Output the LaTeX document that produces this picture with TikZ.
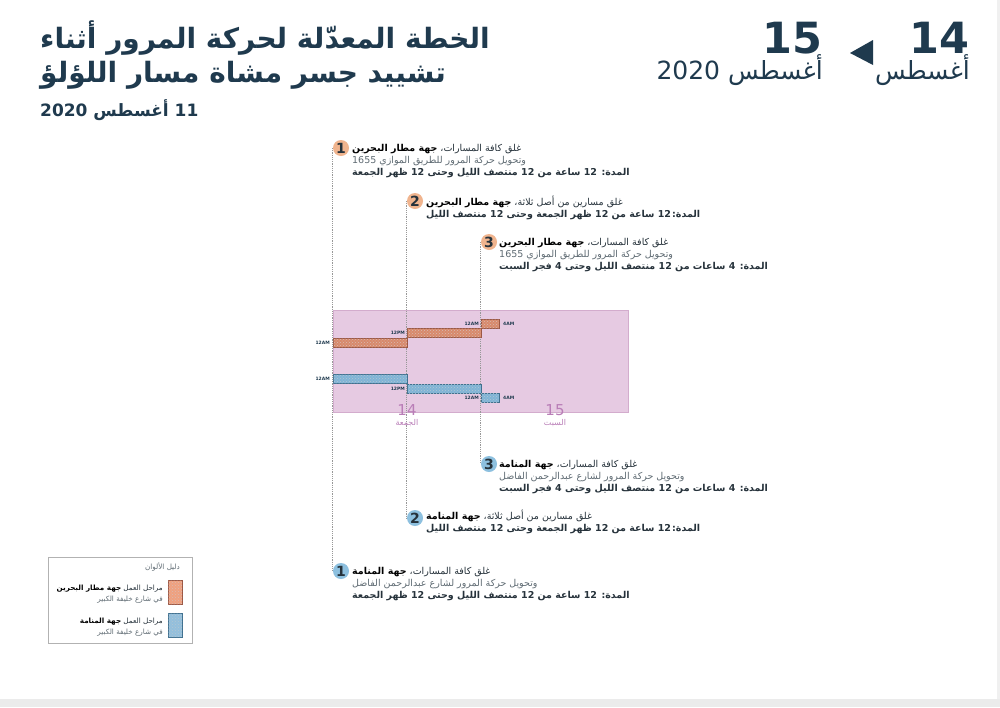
\documentclass[tikz,border=0pt]{standalone}
\usepackage{fontspec}
\setmainfont{DejaVu Sans}
\newfontfamily\ar[Script=Arabic]{DejaVu Sans}
\TeXXeTstate=1
\usetikzlibrary{patterns}
\definecolor{navy}{HTML}{1F3A4E}
\definecolor{txtgray}{HTML}{5F6B73}
\definecolor{dark}{HTML}{26323B}
\definecolor{orc}{HTML}{F0B48E}
\definecolor{blc}{HTML}{8DC0DF}
\definecolor{barO}{HTML}{D8896B}
\definecolor{barOd}{HTML}{9B5744}
\definecolor{barB}{HTML}{80B4D6}
\definecolor{barBd}{HTML}{40708F}
\definecolor{pinkf}{HTML}{E6CAE2}
\definecolor{pinkd}{HTML}{D3ACCD}
\definecolor{daylbl}{HTML}{B97DB7}
\definecolor{vln}{HTML}{989898}
\definecolor{legO}{HTML}{F0A07E}
\newcommand{\bd}[1]{{\bfseries\color{dark}#1}}
\pgfdeclarelayer{bgzero}
\pgfdeclarelayer{bgone}
\pgfsetlayers{bgzero,bgone,main}
\tikzset{
  tx/.style={anchor=base west, inner sep=0, text=txtgray, font=\ar\fontsize{9.5}{11}\selectfont},
  txb/.style={tx, text=dark, font=\ar\bfseries\fontsize{9.5}{11}\selectfont},
  num/.style={circle, inner sep=0, minimum size=16pt, text=dark, font=\bfseries\fontsize{14}{14}\selectfont},
  onum/.style={num, fill=orc},
  bnum/.style={num, fill=blc},
  vline/.style={draw=vln, line width=1.2pt, densely dotted},
  obar/.style={fill=barO, draw=barOd, line width=0.5pt, postaction={pattern=crosshatch dots, pattern color=barOd!40}},
  bbar/.style={fill=barB, draw=barBd, line width=0.5pt, postaction={pattern=crosshatch dots, pattern color=barBd!40}},
  tlbl/.style={inner sep=0, text=navy, font=\bfseries\fontsize{4.5}{5}\selectfont},
  daynum/.style={inner sep=0, text=daylbl, font=\fontsize{15}{15}\selectfont},
  dayname/.style={inner sep=0, text=daylbl, font=\ar\fontsize{8}{9}\selectfont},
  lg/.style={anchor=base east, inner sep=0, text=txtgray, font=\ar\fontsize{7.2}{8}\selectfont}
}
\begin{document}
\begin{tikzpicture}[x=1pt,y=-1pt]
\useasboundingbox (0,0) rectangle (1000,707);
\begin{pgfonlayer}{bgzero}
\fill[white] (0,0) rectangle (1000,707);
\fill[black!8] (0,699) rectangle (1000,707);
\fill[black!6] (997,0) rectangle (1000,699);
\fill[pinkf] (333,310) rectangle (628,412);
\draw[pinkd, line width=0.5pt] (333,310) rectangle (628,412);
\end{pgfonlayer}

% title
\node[anchor=base west, inner sep=0, text=navy, font=\ar\bfseries\fontsize{28}{28}\selectfont] (t1) at (40,48) {\beginR الخطة المعدّلة لحركة المرور أثناء\endR};
\node[anchor=base west, inner sep=0, text=navy, font=\ar\bfseries\fontsize{28}{28}\selectfont] (t2) at (40,82) {\beginR تشييد جسر مشاة مسار اللؤلؤ\endR};
\node[anchor=base west, inner sep=0, text=navy, font=\ar\bfseries\fontsize{17}{17}\selectfont] (t3) at (40,116) {\beginR 11 أغسطس 2020\endR};

% dates top right
\node[anchor=base east, inner sep=0, text=navy, font=\bfseries\fontsize{43}{43}\selectfont] (d14) at (970,53) {14};
\node[anchor=base east, inner sep=0, text=navy, font=\ar\fontsize{25}{25}\selectfont] (m14) at (970,79) {\beginR أغسطس\endR};
\node[anchor=base east, inner sep=0, text=navy, font=\bfseries\fontsize{43}{43}\selectfont] (d15) at (823,53) {15};
\node[anchor=base east, inner sep=0, text=navy, font=\ar\fontsize{25}{25}\selectfont] (m15) at (823,79) {\beginR أغسطس 2020\endR};
\fill[navy] (850,53) -- (873,40) -- (873,65) -- cycle;

% circles
\node[onum] (o1) at (341,148) {1};
\node[onum] (o2) at (415,201) {2};
\node[onum] (o3) at (489,242) {3};
\node[bnum] (b3) at (489,464) {3};
\node[bnum] (b2) at (415,518) {2};
\node[bnum] (b1) at (341,571) {1};

\begin{pgfonlayer}{bgone}
\draw[vline] (o1.west) -- (b1.west);
\draw[vline] (o2.west) -- (b2.west);
\draw[vline] (o3.west) -- (b3.west);
\end{pgfonlayer}

% bars
\filldraw[obar] (333,338) rectangle (407,347);
\filldraw[obar] (407,328) rectangle (481,337);
\filldraw[obar] (481,319) rectangle (499,328);
\filldraw[bbar] (333,374) rectangle (407,383);
\filldraw[bbar] (407,384) rectangle (481,393);
\filldraw[bbar] (481,393) rectangle (499,402);

\node[tlbl, anchor=east] (la1) at (330,342.5) {12AM};
\node[tlbl, anchor=east] (la2) at (405,332.5) {12PM};
\node[tlbl, anchor=east] (la3) at (479,323.5) {12AM};
\node[tlbl, anchor=west] (la4) at (503,323.5) {4AM};
\node[tlbl, anchor=east] (lb1) at (330,378.5) {12AM};
\node[tlbl, anchor=east] (lb2) at (405,388.5) {12PM};
\node[tlbl, anchor=east] (lb3) at (479,397.5) {12AM};
\node[tlbl, anchor=west] (lb4) at (503,397.5) {4AM};

\node[daynum] (n14) at (407,410) {14};
\node[dayname] (j14) at (407,423) {\beginR الجمعة\endR};
\node[daynum] (n15) at (555,410) {15};
\node[dayname] (j15) at (555,423) {\beginR السبت\endR};

% orange texts
\node[tx] (o1a) at (352,151) {\beginR غلق كافة المسارات، \bd{جهة مطار البحرين}\endR};
\node[tx] (o1b) at (352,163) {\beginR وتحويل حركة المرور للطريق الموازي 1655\endR};
\node[txb] (o1c) at (352,175) {\beginR المدة: 12 ساعة من 12 منتصف الليل وحتى 12 ظهر الجمعة\endR};

\node[tx] (o2a) at (426,205) {\beginR غلق مسارين من أصل ثلاثة، \bd{جهة مطار البحرين}\endR};
\node[txb] (o2b) at (426,217) {\beginR المدة:\kern1pt 12 ساعة من 12 ظهر الجمعة وحتى 12 منتصف الليل\endR};

\node[tx] (o3a) at (499,245) {\beginR غلق كافة المسارات، \bd{جهة مطار البحرين}\endR};
\node[tx] (o3b) at (499,257) {\beginR وتحويل حركة المرور للطريق الموازي 1655\endR};
\node[txb] (o3c) at (499,269) {\beginR المدة: 4 ساعات من 12 منتصف الليل وحتى 4 فجر السبت\endR};

% blue texts
\node[tx] (b3a) at (499,467) {\beginR غلق كافة المسارات، \bd{جهة المنامة}\endR};
\node[tx] (b3b) at (499,479) {\beginR وتحويل حركة المرور لشارع عبدالرحمن الفاضل\endR};
\node[txb] (b3c) at (499,491) {\beginR المدة: 4 ساعات من 12 منتصف الليل وحتى 4 فجر السبت\endR};

\node[tx] (b2a) at (426,519) {\beginR غلق مسارين من أصل ثلاثة، \bd{جهة المنامة}\endR};
\node[txb] (b2b) at (426,531) {\beginR المدة:\kern1pt 12 ساعة من 12 ظهر الجمعة وحتى 12 منتصف الليل\endR};

\node[tx] (b1a) at (352,574) {\beginR غلق كافة المسارات، \bd{جهة المنامة}\endR};
\node[tx] (b1b) at (352,586) {\beginR وتحويل حركة المرور لشارع عبدالرحمن الفاضل\endR};
\node[txb] (b1c) at (352,598) {\beginR المدة: 12 ساعة من 12 منتصف الليل وحتى 12 ظهر الجمعة\endR};

% legend
\draw[black!30, line width=0.6pt] (48,557) rectangle (192,643);
\node[lg] (lgt) at (180,569) {\beginR دليل الألوان\endR};
\filldraw[fill=legO, draw=barOd, line width=0.4pt] (168,580) rectangle (182,604);
\fill[pattern=crosshatch dots, pattern color=barOd!40] (168,580) rectangle (182,604);
\filldraw[fill=barB!85, draw=barBd, line width=0.4pt] (168,613) rectangle (182,637);
\fill[pattern=crosshatch dots, pattern color=barBd!40] (168,613) rectangle (182,637);
\node[lg] (lo1) at (163,590) {\beginR مراحل العمل \bd{جهة مطار البحرين}\endR};
\node[lg] (lo2) at (163,601) {\beginR في شارع خليفة الكبير\endR};
\node[lg] (lb1l) at (163,623) {\beginR مراحل العمل \bd{جهة المنامة}\endR};
\node[lg] (lb2l) at (163,634) {\beginR في شارع خليفة الكبير\endR};
\end{tikzpicture}
\end{document}
